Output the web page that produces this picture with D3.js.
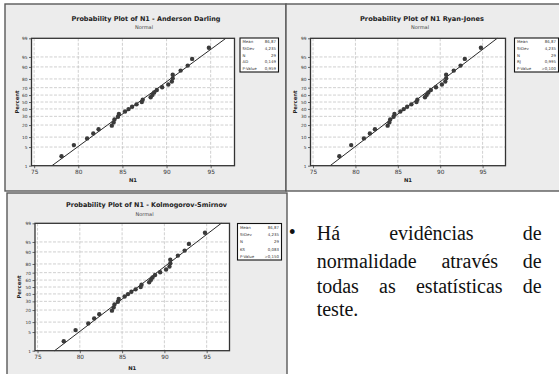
<!DOCTYPE html>
<html><head><meta charset="utf-8">
<script src="https://cdn.jsdelivr.net/npm/d3@7"></script>
<style>body{margin:0;background:#fff} svg{display:block} .note{font-family:"Liberation Serif","Times New Roman","DejaVu Serif",serif;}</style>
</head><body>
<svg id="c" width="559" height="374"></svg>
<script>
// ---- data ----
const n1 = [78.1, 79.5, 81.0, 81.7, 82.3, 83.8, 84.0, 84.1, 84.5, 84.6, 85.3, 85.7, 86.1, 86.6, 87.2,
            87.3, 88.2, 88.4, 88.6, 88.9, 89.5, 90.2, 90.6, 90.7, 90.7, 91.6, 92.4, 92.9, 94.8];
const percents = [2.38, 5.78, 9.18, 12.59, 15.99, 19.39, 22.79, 26.19, 29.59, 32.99, 36.39, 39.80, 43.20, 46.60, 50.00,
                  53.40, 56.80, 60.20, 63.61, 67.01, 70.41, 73.81, 77.21, 80.61, 84.01, 87.41, 90.82, 94.22, 97.62];
const xTicks = [75, 80, 85, 90, 95];
const yTicks = [1, 5, 10, 20, 30, 40, 50, 60, 70, 80, 90, 95, 99];
const titles = ["Probability Plot of N1 - Anderson Darling", "Probability Plot of N1 Ryan-Jones", "Probability Plot of N1 - Kolmogorov-Smirnov"];
const subtitle = "Normal";
const statLabels = [["Mean","StDev","N","AD","P-Value"],["Mean","StDev","N","RJ","P-Value"],["Mean","StDev","N","KS","P-Value"]];
const statValues = [["86,87","4,235","29","0,149","0,959"],["86,87","4,235","29","0,995",">0,100"],["86,87","4,235","29","0,083",">0,150"]];
const fitMean = 86.87, fitSd = 4.235;
const noteLines = [["Há","evidências","de"],["normalidade","através","de"],["todas","as","estatísticas","de"],["teste."]];

// ---- layout ----
const panels = [
  {frame:[5,4,286,191], plot:[31.5,38.3,234.5,165.7], tx:146, ty:20.5, sty:29, box:[240,38,278.5,72], ylx:17, xly:182, tw:149},
  {frame:[286,4,563,191], plot:[310.5,38.3,505.5,165.7], tx:422, ty:20.5, sty:29, box:[514.5,38,558.5,72], ylx:295, xly:182, tw:124},
  {frame:[7,193,287,380], plot:[35,223.3,229.5,350.7], tx:146.5, ty:207, sty:215.5, box:[237.5,223.5,281.5,260], ylx:19, xly:370, tw:161}
];

// inverse normal CDF (Acklam)
function probit(p){
  const a=[-39.69683028665376,220.9460984245205,-275.9285104469687,138.3577518672690,-30.66479806614716,2.506628277459239];
  const b=[-54.47609879822406,161.5858368580409,-155.6989798598866,66.80131188771972,-13.28068155288572];
  const c=[-0.007784894002430293,-0.3223964580411365,-2.400758277161838,-2.549732539343734,4.374664141464968,2.938163982698783];
  const d=[0.007784695709041462,0.3224671290700398,2.445134137142996,3.754408661907416];
  const pl=0.02425;
  let q,r;
  if(p<pl){q=Math.sqrt(-2*Math.log(p));return (((((c[0]*q+c[1])*q+c[2])*q+c[3])*q+c[4])*q+c[5])/((((d[0]*q+d[1])*q+d[2])*q+d[3])*q+1);}
  if(p>1-pl){q=Math.sqrt(-2*Math.log(1-p));return -(((((c[0]*q+c[1])*q+c[2])*q+c[3])*q+c[4])*q+c[5])/((((d[0]*q+d[1])*q+d[2])*q+d[3])*q+1);}
  q=p-0.5;r=q*q;
  return (((((a[0]*r+a[1])*r+a[2])*r+a[3])*r+a[4])*r+a[5])*q/(((((b[0]*r+b[1])*r+b[2])*r+b[3])*r+b[4])*r+1);
}

const svg = d3.select("#c");
svg.append("rect").attr("width",559).attr("height",374).attr("fill","#fff");
const sans = "'DejaVu Sans', Verdana, sans-serif";

panels.forEach((P, k) => {
  const g = svg.append("g");
  const [fx0,fy0,fx1,fy1] = P.frame;
  g.append("rect").attr("x",fx0).attr("y",fy0).attr("width",fx1-fx0).attr("height",fy1-fy0)
    .attr("fill","#ececec").attr("stroke","#5a5a5a").attr("stroke-width",1.4);
  const [px0,py0,px1,py1] = P.plot;
  const x = d3.scaleLinear().domain([74.7,97.7]).range([px0,px1]);
  const y = d3.scaleLinear().domain([probit(0.01),probit(0.99)]).range([py1,py0]);
  g.append("rect").attr("x",px0).attr("y",py0).attr("width",px1-px0).attr("height",py1-py0).attr("fill","#fff");
  // grid
  g.append("g").selectAll("line").data(xTicks).join("line")
    .attr("x1",d=>x(d)).attr("x2",d=>x(d)).attr("y1",py0).attr("y2",py1)
    .attr("stroke","#c4c4c4").attr("stroke-width",0.8).attr("stroke-dasharray","3,1.5");
  g.append("g").selectAll("line").data(yTicks.slice(1,-1)).join("line")
    .attr("x1",px0).attr("x2",px1).attr("y1",d=>y(probit(d/100))).attr("y2",d=>y(probit(d/100)))
    .attr("stroke","#c4c4c4").attr("stroke-width",0.8).attr("stroke-dasharray","3,1.5");
  // axes
  const xa = g.append("g").attr("transform",`translate(0,${py1})`)
    .call(d3.axisBottom(x).tickValues(xTicks).tickSize(2.5).tickPadding(2).tickFormat(d3.format("d")));
  const ya = g.append("g").attr("transform",`translate(${px0},0)`)
    .call(d3.axisLeft(y).tickValues(yTicks.map(p=>probit(p/100))).tickSize(2.5).tickPadding(1.5).tickFormat((d,i)=>yTicks[i]));
  [xa,ya].forEach(a=>{
    a.select(".domain").remove();
    a.selectAll("line").attr("stroke","#444").attr("stroke-width",0.8);
    a.selectAll("text").attr("font-family",sans).attr("fill","#333");
  });
  xa.selectAll("text").attr("font-size",5.8);
  ya.selectAll("text").attr("font-size",4.3);
  // fitted line
  const zMin = probit(0.01), zMax = probit(0.99);
  g.append("line")
    .attr("x1",x(fitMean+fitSd*zMin)).attr("y1",y(zMin))
    .attr("x2",x(fitMean+fitSd*zMax)).attr("y2",y(zMax))
    .attr("stroke","#111").attr("stroke-width",0.9);
  // points
  g.append("g").selectAll("circle").data(n1).join("circle")
    .attr("cx",d=>x(d)).attr("cy",(d,i)=>y(probit(percents[i]/100))).attr("r",2.2)
    .attr("fill","#3a3a3a");
  // plot frame
  g.append("rect").attr("x",px0).attr("y",py0).attr("width",px1-px0).attr("height",py1-py0)
    .attr("fill","none").attr("stroke","#333").attr("stroke-width",1.3);
  // titles
  g.append("text").attr("x",P.tx).attr("y",P.ty).attr("text-anchor","middle")
    .attr("font-family",sans).attr("font-weight","bold").attr("font-size",6.6).attr("fill","#222")
    .attr("textLength",P.tw).attr("lengthAdjust","spacingAndGlyphs").text(titles[k]);
  g.append("text").attr("x",P.tx-2).attr("y",P.sty).attr("text-anchor","middle")
    .attr("font-family",sans).attr("font-size",5).attr("fill","#444").text(subtitle);
  // axis labels
  g.append("text").attr("x",(px0+px1)/2).attr("y",P.xly).attr("text-anchor","middle")
    .attr("font-family",sans).attr("font-weight","bold").attr("font-size",5.3).attr("fill","#222").text("N1");
  g.append("text").attr("transform",`translate(${P.ylx},${(py0+py1)/2}) rotate(-90)`)
    .attr("text-anchor","middle").attr("dominant-baseline","central")
    .attr("font-family",sans).attr("font-weight","bold").attr("font-size",5.3).attr("fill","#222").text("Percent");
  // stats box
  const [bx0,by0,bx1,by1] = P.box;
  g.append("rect").attr("x",bx0).attr("y",by0).attr("width",bx1-bx0).attr("height",by1-by0)
    .attr("fill","#fff").attr("stroke","#111").attr("stroke-width",1.1);
  const rh = (by1-by0)/5;
  statLabels[k].forEach((lab,i)=>{
    g.append("text").attr("x",bx0+2.5).attr("y",by0+rh*(i+0.5)).attr("dominant-baseline","central")
      .attr("font-family",sans).attr("font-size",3.9).attr("fill","#333").text(lab);
    g.append("text").attr("x",bx1-2.5).attr("y",by0+rh*(i+0.5)).attr("dominant-baseline","central")
      .attr("text-anchor","end").attr("font-family",sans).attr("font-size",3.9).attr("fill","#333").text(statValues[k][i]);
  });
});

// right-side note, justified
const noteLeft = 316.7, noteRight = 541.7;
const baselines = [240, 268, 292.5, 316];
svg.append("text").attr("class","note").attr("x",292.3).attr("y",baselines[0]-1).attr("text-anchor","middle")
  .style("font-size","20px").attr("fill","#111").text("•");
noteLines.forEach((words,li)=>{
  const els = words.map(w=>svg.append("text").attr("class","note").attr("y",baselines[li])
    .style("font-size","20px").attr("fill","#111").text(w));
  const widths = els.map(e=>e.node().getComputedTextLength());
  const total = d3.sum(widths);
  const last = li===noteLines.length-1;
  const gap = (!last && words.length>1) ? (noteRight-noteLeft-total)/(words.length-1) : 5;
  let cx = noteLeft;
  els.forEach((e,i)=>{ e.attr("x",cx); cx += widths[i]+gap; });
});
</script>
</body></html>
